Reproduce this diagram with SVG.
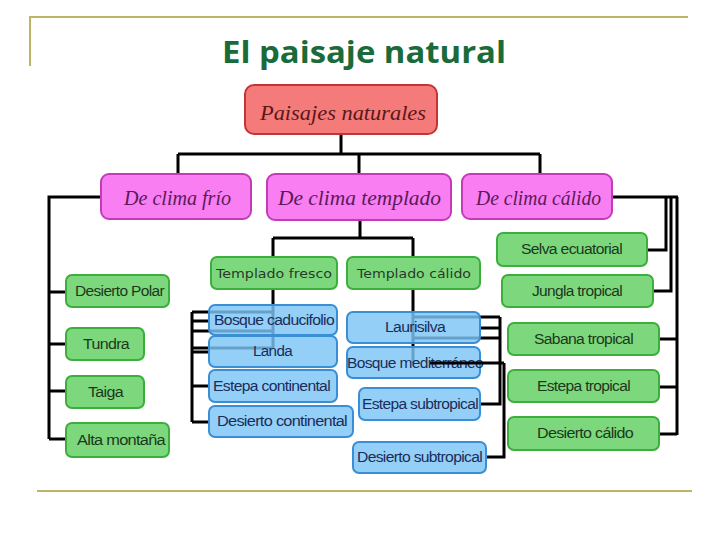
<svg xmlns="http://www.w3.org/2000/svg" width="728" height="546" viewBox="0 0 728 546">
<style>
.frame{stroke:#bdb46a;stroke-width:2;fill:none}
.c{stroke:#000;stroke-width:3;fill:none}
.root{fill:#f57a7a;stroke:#c43434;stroke-width:2}
.l2{fill:#f87ef2;stroke:#c23cb6;stroke-width:2}
.g{fill:#7dd87d;stroke:#3cae3c;stroke-width:2}
.b{fill:#7cc4f6;fill-opacity:0.82;stroke:#3a8ed6;stroke-width:2}
.ser{font-family:"Liberation Serif",serif;font-style:italic;text-anchor:middle}
.sans{font-family:"Liberation Sans",Arial,sans-serif;font-size:14px;text-anchor:middle;letter-spacing:-0.6px}
.gt{fill:#1c381c}
.bt{fill:#1a2d58}
.dv{font-family:"DejaVu Sans",sans-serif;font-size:13px;text-anchor:middle;fill:#2a3a2a}
</style>
<rect width="728" height="546" fill="#fff"/>
<g id="frame">
<path class="frame" d="M30,66 V17 H688"/>
<line class="frame" x1="37" y1="491" x2="692" y2="491"/>
</g>
<text id="title" x="364" y="63" font-family="'Open Sans','Liberation Sans',sans-serif" font-weight="bold" font-size="31" fill="#1b6a3a" text-anchor="middle" textLength="284" lengthAdjust="spacingAndGlyphs">El paisaje natural</text>
<g id="connectors">
<path class="c" d="M341,135 V154 M178,154 H540 M178,154 V174 M359,154 V174 M540,154 V174"/>
<path class="c" d="M101,197 H49 V439 M49,292 H66 M49,344 H66 M49,391 H66 M49,439 H66"/>
<path class="c" d="M612,197 H678 M666,197 V250 H648 M671,197 V291 H653 M677,197 V435 M659,339 H677 M659,387 H677 M659,434 H677"/>
<path class="c" d="M360,220 V238 M273,238 H413 M273,238 V257 M413,238 V257"/>
<path class="c" d="M273,289 V348 M192,312 V422 M192,312 H273 M192,321 H209 M192,331 H273 M192,348 H273 M192,352 H209 M192,386 H209 M192,422 H209"/>
<path class="c" d="M413,289 V363 M413,317 H500 M480,328 H500 M413,338 H500 M500,317 V404 H480 M504,363 V457 H486"/>
</g>
<g id="n-root"><rect class="root" x="245" y="85" width="192" height="49" rx="9"/><text class="ser" x="343" y="120" font-size="21" fill="#5a1818" textLength="166" lengthAdjust="spacingAndGlyphs">Paisajes naturales</text></g>
<g id="n-frio"><rect class="l2" x="101" y="174" width="150" height="45" rx="8"/><text class="ser" x="177.5" y="205" font-size="20" fill="#5a1a5a" textLength="107" lengthAdjust="spacingAndGlyphs">De clima frío</text></g>
<g id="n-templado"><rect class="l2" x="267" y="174" width="184" height="46" rx="8"/><text class="ser" x="359.5" y="205" font-size="20" fill="#5a1a5a" textLength="163" lengthAdjust="spacingAndGlyphs">De clima templado</text></g>
<g id="n-calido"><rect class="l2" x="462" y="174" width="150" height="45" rx="8"/><text class="ser" x="538.5" y="205" font-size="20" fill="#5a1a5a" textLength="125" lengthAdjust="spacingAndGlyphs">De clima cálido</text></g>
<g id="n-desierto-polar"><rect class="g" x="66" y="275" width="103" height="32" rx="6"/><text class="sans gt" x="119.5" y="296" textLength="89" lengthAdjust="spacingAndGlyphs">Desierto Polar</text></g>
<g id="n-tundra"><rect class="g" x="66" y="328" width="78" height="32" rx="6"/><text class="sans gt" x="106" y="349" textLength="46" lengthAdjust="spacingAndGlyphs">Tundra</text></g>
<g id="n-taiga"><rect class="g" x="66" y="376" width="78" height="32" rx="6"/><text class="sans gt" x="105.5" y="397" textLength="35" lengthAdjust="spacingAndGlyphs">Taiga</text></g>
<g id="n-alta-montana"><rect class="g" x="66" y="423" width="103" height="34" rx="6"/><text class="sans gt" x="121" y="445" textLength="88" lengthAdjust="spacingAndGlyphs">Alta montaña</text></g>
<g id="n-templado-fresco"><rect class="g" x="211" y="257" width="126" height="32" rx="6"/><text class="dv" x="274" y="278" textLength="116" lengthAdjust="spacingAndGlyphs">Templado fresco</text></g>
<g id="n-templado-calido"><rect class="g" x="347" y="257" width="133" height="32" rx="6"/><text class="dv" x="414" y="278" textLength="114" lengthAdjust="spacingAndGlyphs">Templado cálido</text></g>
<g id="n-bosque-caducifolio"><rect class="b" x="209" y="305" width="128" height="30" rx="6"/><text class="sans bt" x="274" y="325" textLength="120" lengthAdjust="spacingAndGlyphs">Bosque caducifolio</text></g>
<g id="n-landa"><rect class="b" x="209" y="336" width="128" height="31" rx="6"/><text class="sans bt" x="272.5" y="356" textLength="39" lengthAdjust="spacingAndGlyphs">Landa</text></g>
<g id="n-estepa-continental"><rect class="b" x="209" y="370" width="128" height="32" rx="6"/><text class="sans bt" x="271.5" y="391" textLength="117" lengthAdjust="spacingAndGlyphs">Estepa continental</text></g>
<g id="n-desierto-continental"><rect class="b" x="209" y="406" width="144" height="31" rx="6"/><text class="sans bt" x="282" y="426" textLength="130" lengthAdjust="spacingAndGlyphs">Desierto  continental</text></g>
<g id="n-laurisilva"><rect class="b" x="347" y="312" width="133" height="31" rx="6"/><text class="sans bt" x="415" y="332" textLength="60" lengthAdjust="spacingAndGlyphs">Laurisilva</text></g>
<g id="n-bosque-mediterraneo"><rect class="b" x="347" y="347" width="133" height="31" rx="6"/><text class="sans bt" x="415" y="368" textLength="136" lengthAdjust="spacingAndGlyphs">Bosque mediterráneo</text></g>
<g id="n-estepa-subtropical"><rect class="b" x="359" y="388" width="121" height="32" rx="6"/><text class="sans bt" x="420" y="409" textLength="116" lengthAdjust="spacingAndGlyphs">Estepa subtropical</text></g>
<g id="n-desierto-subtropical"><rect class="b" x="353" y="442" width="133" height="31" rx="6"/><text class="sans bt" x="419.5" y="462" textLength="125" lengthAdjust="spacingAndGlyphs">Desierto subtropical</text></g>
<g id="n-selva-ecuatorial"><rect class="g" x="497" y="233" width="150" height="33" rx="6"/><text class="sans gt" x="571.5" y="254" textLength="101" lengthAdjust="spacingAndGlyphs">Selva ecuatorial</text></g>
<g id="n-jungla-tropical"><rect class="g" x="502" y="275" width="151" height="32" rx="6"/><text class="sans gt" x="577" y="296" textLength="90" lengthAdjust="spacingAndGlyphs">Jungla tropical</text></g>
<g id="n-sabana-tropical"><rect class="g" x="508" y="323" width="151" height="32" rx="6"/><text class="sans gt" x="583.5" y="344" textLength="99" lengthAdjust="spacingAndGlyphs">Sabana tropical</text></g>
<g id="n-estepa-tropical"><rect class="g" x="508" y="370" width="151" height="32" rx="6"/><text class="sans gt" x="583.5" y="391" textLength="93" lengthAdjust="spacingAndGlyphs">Estepa tropical</text></g>
<g id="n-desierto-calido"><rect class="g" x="508" y="417" width="151" height="33" rx="6"/><text class="sans gt" x="585" y="438" textLength="96" lengthAdjust="spacingAndGlyphs">Desierto cálido</text></g>
<g id="connectors-over">
<path class="c" d="M430,363 H504" stroke-width="4"/>
</g>
</svg>
